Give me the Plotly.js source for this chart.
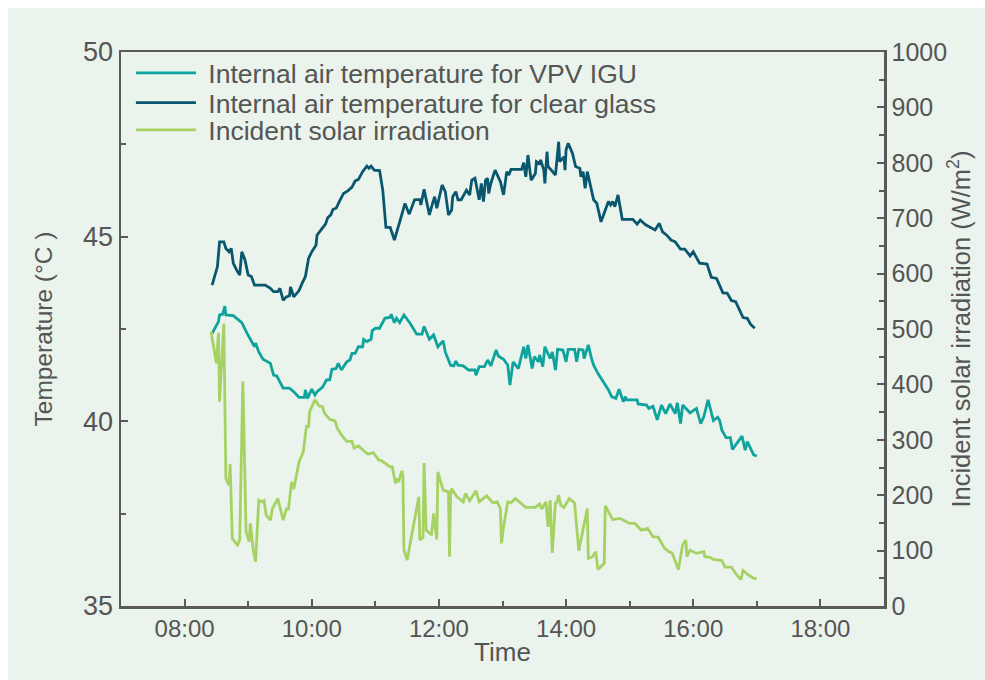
<!DOCTYPE html>
<html>
<head>
<meta charset="utf-8">
<script src="https://cdn.plot.ly/plotly-3.0.1.min.js"></script>
<style>
  html, body { margin: 0; padding: 0; background: #ffffff; }
  #chart { position: absolute; left: 8px; top: 8px; width: 977px; height: 672px; }
</style>
</head>
<body>
<div id="chart"></div>
<script>
const day = '2020-06-01 ';

const vpvTime = ['08:26','08:29','08:32','08:33','08:36','08:38','08:39','08:46','08:49','08:54','08:59','09:03','09:06','09:07','09:10','09:14','09:21','09:24','09:27','09:33','09:39','09:43','09:48','09:53','09:54','09:56','10:00','10:03','10:05','10:10','10:14','10:17','10:19','10:23','10:25','10:28','10:33','10:36','10:38','10:41','10:44','10:48','10:49','10:52','10:56','10:57','11:00','11:04','11:09','11:14','11:15','11:18','11:20','11:23','11:27','11:33','11:39','11:44','11:46','11:51','11:55','11:59','12:04','12:06','12:11','12:14','12:16','12:18','12:23','12:28','12:34','12:35','12:38','12:43','12:46','12:49','12:54','12:56','13:01','13:05','13:07','13:10','13:15','13:20','13:22','13:24','13:28','13:30','13:34','13:35','13:38','13:40','13:45','13:47','13:50','13:52','13:57','14:00','14:02','14:08','14:10','14:12','14:16','14:17','14:21','14:24','14:26','14:30','14:34','14:35','14:40','14:43','14:47','14:50','14:54','14:56','14:57','15:07','15:08','15:16','15:18','15:22','15:26','15:30','15:34','15:38','15:43','15:45','15:48','15:50','15:57','16:03','16:07','16:10','16:14','16:19','16:23','16:25','16:27','16:31','16:35','16:37','16:46','16:49','16:51','16:57','17:00'];
const vpvTemp = [42.38,42.56,42.70,42.88,42.90,43.12,42.88,42.86,42.79,42.67,42.38,42.16,42.02,42.12,41.88,41.68,41.57,41.25,41.23,40.90,40.90,40.80,40.65,40.65,40.85,40.62,40.87,40.71,40.80,40.92,41.12,41.12,41.41,41.43,41.57,41.39,41.61,41.66,41.84,41.84,42.02,42.02,42.22,42.16,42.22,42.45,42.52,42.52,42.79,42.82,42.90,42.67,42.79,42.67,42.88,42.65,42.36,42.36,42.57,42.22,42.34,42.02,42.18,41.88,41.52,41.50,41.63,41.52,41.50,41.39,41.39,41.25,41.48,41.48,41.66,41.50,41.93,41.77,41.68,41.52,40.98,41.61,41.43,42.02,41.70,42.07,41.43,41.75,41.61,41.80,41.48,42.02,41.70,41.88,41.39,41.95,41.93,41.61,41.95,41.95,41.61,41.95,41.93,41.70,42.07,41.70,41.52,41.30,41.12,41.05,40.85,40.67,40.62,40.87,40.53,40.67,40.58,40.58,40.47,40.44,40.35,40.41,40.04,40.44,40.21,40.47,40.21,40.50,39.94,40.44,40.23,40.35,39.94,40.13,40.58,40.02,40.11,40.02,39.76,39.56,39.56,39.24,39.60,39.22,39.45,39.09,39.06];

const clearTime = ['08:26','08:29','08:31','08:33','08:37','08:39','08:42','08:44','08:46','08:49','08:52','08:54','08:57','09:00','09:03','09:06','09:16','09:21','09:24','09:28','09:30','09:33','09:36','09:39','09:40','09:43','09:48','09:51','09:54','09:57','10:00','10:04','10:05','10:10','10:13','10:15','10:18','10:20','10:23','10:26','10:30','10:34','10:38','10:41','10:44','10:48','10:52','10:54','10:56','10:59','11:04','11:07','11:10','11:14','11:18','11:23','11:28','11:32','11:37','11:42','11:43','11:46','11:51','11:54','11:56','11:58','12:03','12:06','12:09','12:12','12:13','12:16','12:18','12:21','12:26','12:29','12:31','12:34','12:38','12:40','12:42','12:44','12:46','12:47','12:49','12:53','12:58','13:01','13:04','13:06','13:08','13:18','13:20','13:22','13:24','13:27','13:31','13:32','13:35','13:36','13:39','13:40','13:42','13:43','13:50','13:53','13:54','13:58','13:59','14:00','14:02','14:06','14:09','14:13','14:14','14:16','14:18','14:20','14:23','14:26','14:29','14:33','14:37','14:40','14:42','14:44','14:46','14:49','14:53','15:03','15:07','15:10','15:15','15:21','15:24','15:28','15:31','15:35','15:39','15:43','15:48','15:52','15:57','16:00','16:06','16:13','16:17','16:22','16:28','16:32','16:36','16:40','16:47','16:51','16:54','16:58'];
const clearTemp = [43.69,44.00,44.19,44.86,44.86,44.68,44.59,44.68,44.28,44.10,43.96,44.59,44.37,43.96,43.92,43.69,43.69,43.60,43.51,43.51,43.60,43.28,43.37,43.40,43.64,43.37,43.54,43.74,43.92,44.41,44.59,44.77,45.04,45.23,45.34,45.51,45.59,45.74,45.77,45.95,46.17,46.24,46.34,46.51,46.55,46.76,46.91,46.85,46.91,46.80,46.79,46.26,45.25,45.25,44.91,45.40,45.90,45.61,46.00,46.01,45.86,46.28,45.59,45.90,46.08,45.77,46.40,46.22,45.59,45.72,46.08,46.22,46.00,46.00,46.26,46.13,46.53,46.58,46.00,46.44,45.95,46.53,46.58,46.17,46.44,46.80,46.49,46.13,46.76,46.67,46.82,46.82,47.00,46.62,47.21,46.53,46.71,47.03,46.98,47.08,46.80,46.44,47.30,46.90,46.67,47.57,47.03,47.16,46.80,47.35,47.53,47.26,46.90,46.85,46.62,46.76,46.31,46.76,46.40,46.00,45.90,45.40,45.72,45.95,45.86,45.95,45.81,46.13,45.47,45.47,45.34,45.45,45.32,45.23,45.18,45.36,45.13,45.04,44.91,44.86,44.66,44.66,44.48,44.59,44.28,44.26,43.90,43.87,43.48,43.47,43.27,43.24,42.81,42.79,42.63,42.52];

const solarTime = ['08:25','08:30','08:32','08:33','08:37','08:39','08:42','08:43','08:45','08:50','08:52','08:55','08:58','09:01','09:02','09:05','09:07','09:10','09:13','09:15','09:17','09:21','09:23','09:28','09:33','09:36','09:38','09:41','09:43','09:48','09:52','09:55','09:57','09:58','10:03','10:07','10:10','10:12','10:17','10:22','10:24','10:28','10:33','10:38','10:40','10:44','10:51','10:53','10:58','11:03','11:06','11:10','11:14','11:16','11:19','11:20','11:22','11:25','11:26','11:27','11:30','11:41','11:42','11:45','11:46','11:48','11:53','11:55','11:58','11:59','12:04','12:09','12:10','12:11','12:12','12:17','12:23','12:25','12:29','12:35','12:38','12:45','12:51','12:55','12:58','12:59','13:01','13:05','13:08','13:12','13:22','13:31','13:35','13:37','13:41','13:43','13:45','13:47','13:50','13:51','13:53','13:55','13:58','14:03','14:08','14:12','14:20','14:21','14:25','14:28','14:30','14:36','14:37','14:44','14:51','15:00','15:05','15:11','15:17','15:22','15:27','15:33','15:37','15:40','15:46','15:50','15:53','15:54','15:57','16:03','16:10','16:11','16:16','16:19','16:27','16:30','16:36','16:41','16:45','16:47','16:52','16:57','17:00'];
const solarIrr = [495,438,493,369,510,230,218,256,122,110,119,405,134,116,149,98,80,191,188,190,164,155,176,194,155,175,175,224,211,260,278,324,324,351,372,361,360,348,337,334,321,309,297,297,285,289,277,274,277,264,262,256,251,251,221,230,224,244,236,101,83,197,119,124,258,137,128,167,120,242,209,206,89,200,212,197,188,203,190,208,188,199,186,188,176,113,143,188,186,194,178,178,184,175,188,143,191,96,188,185,200,182,178,194,186,100,176,86,89,98,66,77,181,156,158,149,149,137,140,125,124,104,98,96,66,110,119,89,101,95,98,89,88,84,82,70,70,56,48,64,56,50,50];

const seriesNames = ['Internal air temperature for VPV IGU', 'Internal air temperature for clear glass', 'Incident solar irradiation'];
const seriesColors = ['#0fa39e', '#09566f', '#a6d264'];

const toDate = arr => arr.map(t => day + t);

const axisColor = '#5a5a5a';
const textColor = '#555555';
const fontFamily = 'Arial, "Liberation Sans", sans-serif';
const nb = '\u00a0';

const traces = [
  { x: toDate(vpvTime), y: vpvTemp, name: nb + seriesNames[0], type: 'scatter', mode: 'lines',
    line: { color: seriesColors[0], width: 2.8 }, yaxis: 'y', legend: 'legend' },
  { x: toDate(clearTime), y: clearTemp, name: nb + seriesNames[1], type: 'scatter', mode: 'lines',
    line: { color: seriesColors[1], width: 2.8 }, yaxis: 'y', legend: 'legend2' },
  { x: toDate(solarTime), y: solarIrr, name: nb + seriesNames[2], type: 'scatter', mode: 'lines',
    line: { color: seriesColors[2], width: 2.8 }, yaxis: 'y2', legend: 'legend3' }
];

const legendBase = (yPos) => ({
  x: 0.013, y: yPos, xanchor: 'left', yanchor: 'middle',
  bgcolor: 'rgba(0,0,0,0)', borderwidth: 0,
  font: { size: 26.5, color: textColor, family: fontFamily },
  itemwidth: 60
});

const layout = {
  width: 977, height: 672,
  paper_bgcolor: '#eaf3ec',
  plot_bgcolor: 'rgba(0,0,0,0)',
  margin: { l: 113, r: 101, t: 44, b: 74 },
  font: { family: fontFamily, size: 24, color: textColor },
  showlegend: true,
  legend: legendBase(0.962),
  legend2: legendBase(0.908),
  legend3: legendBase(0.859),
  xaxis: {
    type: 'date',
    range: [day + '07:00', day + '19:00'],
    tick0: day + '08:00', dtick: 7200000,
    tickformat: '%H:%M',
    ticks: 'inside', ticklen: 7, tickwidth: 2, tickcolor: axisColor,
    minor: { dtick: 3600000, ticks: 'inside', ticklen: 5, tickwidth: 2, tickcolor: axisColor },
    showline: true, linecolor: axisColor, linewidth: 2.5, mirror: true,
    showgrid: false, zeroline: false,
    tickfont: { size: 24, color: textColor },
    title: { text: 'Time', font: { size: 26, color: textColor }, standoff: 2 }
  },
  yaxis: {
    range: [35, 50], dtick: 5, tick0: 35,
    ticks: 'inside', ticklen: 7, tickwidth: 2, tickcolor: axisColor,
    minor: { dtick: 2.5, ticks: 'inside', ticklen: 5, tickwidth: 2, tickcolor: axisColor },
    showline: true, linecolor: axisColor, linewidth: 2.5,
    showgrid: false, zeroline: false,
    tickfont: { size: 27, color: textColor },
    title: { text: 'Temperature (°C )', font: { size: 24.5, color: textColor }, standoff: 24 }
  },
  yaxis2: {
    overlaying: 'y', side: 'right',
    range: [0, 1000], dtick: 100, tick0: 0,
    ticks: 'inside', ticklen: 7, tickwidth: 2, tickcolor: axisColor,
    minor: { dtick: 50, ticks: 'inside', ticklen: 5, tickwidth: 2, tickcolor: axisColor },
    showline: true, linecolor: axisColor, linewidth: 2.5,
    showgrid: false, zeroline: false,
    tickfont: { size: 25, color: textColor },
    title: { text: 'Incident solar irradiation (W/m<sup>2</sup>)', font: { size: 25.5, color: textColor }, standoff: 6 }
  }
};

Plotly.newPlot('chart', traces, layout, { displayModeBar: false, staticPlot: true });
</script>
</body>
</html>
